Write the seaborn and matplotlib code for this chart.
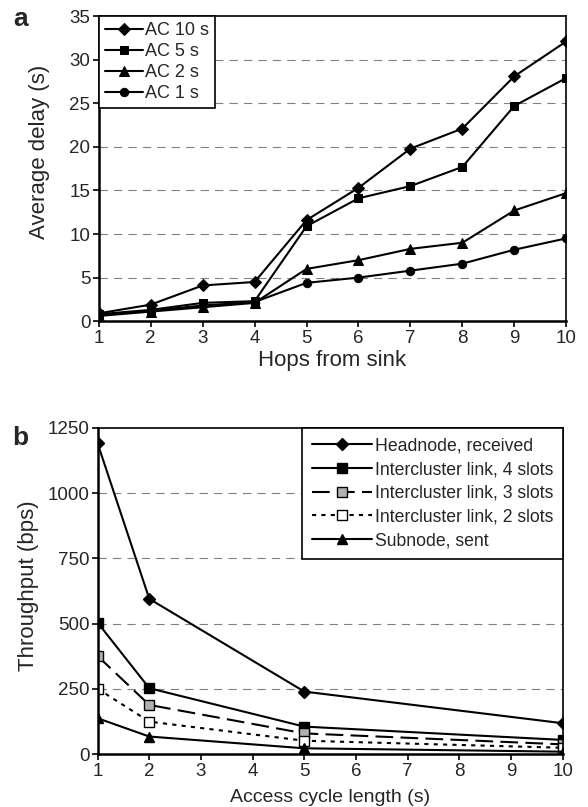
import numpy as np
import pandas as pd
import matplotlib
matplotlib.use("Agg")
import matplotlib.pyplot as plt
import seaborn as sns

# Panel a: average delay vs hops
hops = [1, 2, 3, 4, 5, 6, 7, 8, 9, 10]
ac10 = [0.9, 1.9, 4.1, 4.5, 11.6, 15.3, 19.8, 22.1, 28.1, 32.1]
ac5 = [0.8, 1.3, 2.1, 2.3, 10.9, 14.1, 15.5, 17.7, 24.7, 27.9]
ac2 = [0.6, 1.1, 1.6, 2.1, 6.0, 7.0, 8.3, 9.0, 12.7, 14.7]
ac1 = [0.7, 1.2, 1.8, 2.2, 4.4, 5.0, 5.8, 6.6, 8.2, 9.5]

# Panel b: throughput vs access cycle length
cycle = [1, 2, 5, 10]
headnode = [1190, 595, 240, 119]
link4 = [504, 253, 106, 55]
link3 = [376, 189, 80, 38]
link2 = [251, 125, 52, 25]
subnode = [138, 68, 23, 10]

sns.set_theme(style="ticks")
plt.rcParams["font.family"] = ["Liberation Sans", "DejaVu Sans"]

fig = plt.figure(figsize=(5.88, 8.07), dpi=100)
ax_a = fig.add_axes([0.168, 0.602, 0.795, 0.378])
ax_b = fig.add_axes([0.166, 0.0653, 0.791, 0.4047])

grid_kw = dict(color="#808080", linestyle=(0, (7.5, 5.5)), linewidth=0.8, zorder=0)
line_kw = dict(color="black", linewidth=1.5)

# Panel a
series_a = [("AC 10 s", ac10, "D", 6.5), ("AC 5 s", ac5, "s", 6),
            ("AC 2 s", ac2, "^", 6.5), ("AC 1 s", ac1, "o", 6)]
for label, vals, mk, ms in series_a:
    df = pd.DataFrame({"x": hops, "y": vals})
    sns.lineplot(data=df, x="x", y="y", ax=ax_a, label=label, marker=mk,
                 markersize=ms, markerfacecolor="black", markeredgecolor="black",
                 **line_kw)
ax_a.set_xlim(1, 10)
ax_a.set_ylim(0, 35)
ax_a.set_xticks(range(1, 11))
ax_a.set_yticks(range(0, 36, 5))
for v in range(5, 35, 5):
    ax_a.axhline(v, **grid_kw)
ax_a.set_xlabel("Hops from sink", fontsize=16)
ax_a.set_ylabel("Average delay (s)", fontsize=16)
ax_a.xaxis.set_label_coords(0.5, -0.128)
ax_a.xaxis.label.set_va("center")
ax_a.yaxis.set_label_coords(-0.126, 0.554)
ax_a.yaxis.label.set_va("center")
leg = ax_a.legend(loc="upper left", borderaxespad=0, fontsize=13, frameon=True,
                  fancybox=False, edgecolor="black", handlelength=2.1,
                  handletextpad=0.15, labelspacing=0.22, borderpad=0.33)
leg.get_frame().set_linewidth(1.2)
leg.get_frame().set_alpha(1)

# Panel b
series_b = [("Headnode, received", headnode, "D", 6.5, "black", "-"),
            ("Intercluster link, 4 slots", link4, "s", 6.5, "black", "-"),
            ("Intercluster link, 3 slots", link3, "s", 6.5, "#b0b0b0", (0, (8.5, 3.5))),
            ("Intercluster link, 2 slots", link2, "s", 6.5, "white", (0, (2, 2.5))),
            ("Subnode, sent", subnode, "^", 7, "black", "-")]
for label, vals, mk, ms, fc, ls in series_b:
    df = pd.DataFrame({"x": cycle, "y": vals})
    sns.lineplot(data=df, x="x", y="y", ax=ax_b, label=label, marker=mk,
                 markersize=ms, markerfacecolor=fc, markeredgecolor="black",
                 markeredgewidth=1.0, linestyle=ls, **line_kw)
ax_b.set_xlim(1, 10)
ax_b.set_ylim(0, 1250)
ax_b.set_xticks(range(1, 11))
ax_b.set_yticks(range(0, 1251, 250))
for v in range(250, 1250, 250):
    ax_b.axhline(v, **grid_kw)
ax_b.set_xlabel("Access cycle length (s)", fontsize=14)
ax_b.set_ylabel("Throughput (bps)", fontsize=16)
ax_b.xaxis.set_label_coords(0.5, -0.131)
ax_b.xaxis.label.set_va("center")
ax_b.yaxis.set_label_coords(-0.148, 0.517)
ax_b.yaxis.label.set_va("center")
leg = ax_b.legend(loc="upper right", borderaxespad=0, fontsize=12.7, frameon=True,
                  fancybox=False, edgecolor="black", handlelength=3.4,
                  handletextpad=0.15, labelspacing=0.38, borderpad=0.55)
leg.get_frame().set_linewidth(1.2)
leg.get_frame().set_alpha(1)

fig.text(21 / 588, 1 - 19 / 807, "a", fontsize=19, fontweight="bold",
         ha="center", va="center")
fig.text(20 / 588, 1 - 438 / 807, "b", fontsize=19, fontweight="bold",
         ha="center", va="center")

for ax in (ax_a, ax_b):
    for sp in ax.spines.values():
        sp.set_visible(True)
        sp.set_color("black")
        sp.set_linewidth(1.2)
    ax.spines["left"].set_linewidth(1.8)
    ax.spines["bottom"].set_linewidth(1.8)
    ax.tick_params(axis="both", labelsize=13.5, direction="out", length=4,
                   width=1.2, color="black", pad=2, top=False, right=False)
    ax.grid(False)
    ax.set_facecolor("white")

fig.savefig("out.png", dpi=100, facecolor="white")
